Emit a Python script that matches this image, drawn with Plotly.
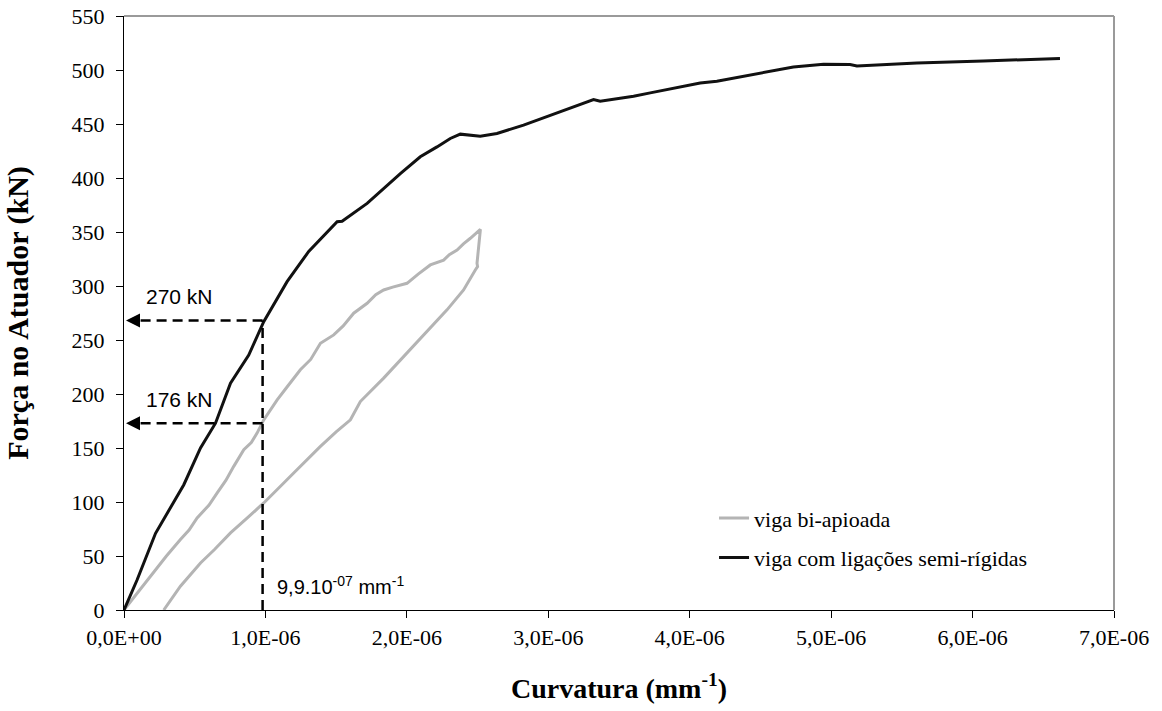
import plotly.graph_objects as go

# ---- data (curvature in mm^-1, force in kN) ----
semi_rigid_curv = [0, 0.093e-6, 0.223e-6, 0.423e-6, 0.541e-6, 0.647e-6, 0.753e-6, 0.882e-6,
                   0.988e-6, 1.153e-6, 1.306e-6, 1.507e-6, 1.542e-6, 1.719e-6, 1.954e-6,
                   2.095e-6, 2.213e-6, 2.307e-6, 2.378e-6, 2.519e-6, 2.637e-6, 2.825e-6,
                   3.014e-6, 3.320e-6, 3.367e-6, 3.603e-6, 3.721e-6, 4.074e-6, 4.192e-6,
                   4.733e-6, 4.946e-6, 5.134e-6, 5.182e-6, 5.606e-6, 6.076e-6, 6.618e-6]
semi_rigid_force = [0, 28, 71, 116, 150, 173, 210, 236,
                    267, 304, 332, 359.5, 360, 376.5, 404,
                    419.6, 428.8, 436.6, 440.6, 438.7, 441.2, 449,
                    458, 472.7, 471.1, 475.7, 478.8, 488, 489.6,
                    502.8, 505.3, 505, 503.7, 506.5, 508.4, 510.6]

simple_curv = [0, 0.10e-6, 0.211e-6, 0.30e-6, 0.399e-6, 0.46e-6, 0.517e-6, 0.60e-6, 0.659e-6,
               0.72e-6, 0.776e-6, 0.847e-6, 0.90e-6, 0.941e-6, 0.988e-6, 1.083e-6, 1.15e-6,
               1.247e-6, 1.32e-6, 1.389e-6, 1.483e-6, 1.55e-6, 1.624e-6, 1.719e-6, 1.78e-6,
               1.836e-6, 1.90e-6, 2.001e-6, 2.08e-6, 2.166e-6, 2.26e-6, 2.30e-6, 2.355e-6,
               2.40e-6, 2.449e-6, 2.52e-6,
               2.496e-6, 2.50e-6, 2.484e-6, 2.44e-6, 2.401e-6, 2.284e-6, 2.143e-6, 1.977e-6,
               1.836e-6, 1.671e-6, 1.615e-6, 1.601e-6, 1.50e-6, 1.389e-6, 1.2e-6, 0.988e-6,
               0.87e-6, 0.753e-6, 0.64e-6, 0.541e-6, 0.399e-6, 0.281e-6]
simple_force = [0, 17, 35.9, 50, 65.2, 74, 85.3, 97, 108.4,
                120, 133, 148.4, 155, 163.8, 176, 194.6, 206,
                222.4, 232, 247, 254.7, 263, 274.8, 284, 292,
                296.3, 299, 302.5, 311, 319.5, 324, 329, 333.3,
                339, 344.2, 352.5,
                321, 318, 314.8, 305, 296.3, 277.9, 257.8, 234.7,
                214.7, 193, 180, 176.1, 165, 151.5, 126.9, 99.1,
                85, 71.4, 56, 43.6, 22, 0]

ref_curv = 0.98e-6          # curvature marked by the dashed vertical line
ref_forces = [268, 173]      # forces marked by the dashed horizontal lines
ref_labels = ["270 kN", "176 kN"]
curv_label = "9,9.10<sup>-07</sup> mm<sup>-1</sup>"

x_ticks = [0, 1e-6, 2e-6, 3e-6, 4e-6, 5e-6, 6e-6, 7e-6]
x_ticktext = ["0,0E+00", "1,0E-06", "2,0E-06", "3,0E-06", "4,0E-06", "5,0E-06", "6,0E-06", "7,0E-06"]

SERIF = "Liberation Serif, Times New Roman, serif"
SANS = "Liberation Sans, Arial, sans-serif"
dash = "10px,6px"

fig = go.Figure()
fig.add_trace(go.Scatter(x=simple_curv, y=simple_force, mode="lines",
                         name="viga bi-apioada", legendgroup="a",
                         line=dict(color="#b4b4b4", width=3)))
fig.add_trace(go.Scatter(x=semi_rigid_curv, y=semi_rigid_force, mode="lines",
                         name="viga com ligações semi-rígidas", legendgroup="b",
                         line=dict(color="#111111", width=3)))

# dashed reference lines
fig.add_trace(go.Scatter(x=[ref_curv, ref_curv], y=[0, max(ref_forces)], mode="lines",
                         showlegend=False, hoverinfo="skip",
                         line=dict(color="black", width=2.5, dash=dash)))
for f, lab in zip(ref_forces, ref_labels):
    fig.add_trace(go.Scatter(x=[ref_curv, 0.07e-6], y=[f, f], mode="lines",
                             showlegend=False, hoverinfo="skip",
                             line=dict(color="black", width=2.5, dash=dash)))
    fig.add_annotation(x=0, y=f, ax=16, ay=0, text="", showarrow=True,
                       arrowhead=2, arrowsize=1.4, arrowwidth=2, arrowcolor="black",
                       standoff=2)
    fig.add_annotation(x=0, y=f, text=lab, showarrow=False, xanchor="left",
                       yanchor="middle", xshift=20, yshift=24,
                       font=dict(family=SANS, size=21, color="black"))

fig.add_annotation(x=ref_curv, y=0, text=curv_label, showarrow=False, xanchor="left",
                   yanchor="middle", xshift=12, yshift=25,
                   font=dict(family=SANS, size=20, color="black"))

# grey frame (top & right)
fig.add_shape(type="line", xref="paper", yref="paper", x0=0, x1=1, y0=1, y1=1,
              line=dict(color="#9a9a9a", width=2))
fig.add_shape(type="line", xref="paper", yref="paper", x0=1, x1=1, y0=0, y1=1,
              line=dict(color="#9a9a9a", width=2))

fig.update_layout(
    width=1162, height=711,
    margin=dict(l=124, r=48, t=16, b=101, autoexpand=False),
    paper_bgcolor="white", plot_bgcolor="white",
    font=dict(family=SERIF, size=22, color="black"),
    showlegend=True,
    legend=dict(x=0.596, y=0.19, xanchor="left", yanchor="top",
                bgcolor="rgba(0,0,0,0)", tracegroupgap=8,
                font=dict(family=SERIF, size=22, color="black")),
    xaxis=dict(range=[0, 7e-6], tickvals=x_ticks, ticktext=x_ticktext,
               showgrid=False, zeroline=False, showline=True, linecolor="black",
               linewidth=1.3, ticks="outside", ticklen=7, tickcolor="black",
               tickfont=dict(family=SERIF, size=22), automargin=False,
               title=dict(text="<b>Curvatura (mm<sup>-1</sup>)</b>", standoff=29,
                          font=dict(family=SERIF, size=28))),
    yaxis=dict(range=[0, 550], dtick=50, tick0=0,
               showgrid=False, zeroline=False, showline=True, linecolor="black",
               linewidth=1.3, ticks="outside", ticklen=7, tickcolor="black",
               ticklabelstandoff=7, automargin=False,
               tickfont=dict(family=SERIF, size=22),
               title=dict(text="<b>Força no Atuador (kN)</b>", standoff=33,
                          font=dict(family=SERIF, size=30))),
)

fig.write_html("out.html", config={"displayModeBar": False},
               post_script="document.body.style.margin='0px';")
